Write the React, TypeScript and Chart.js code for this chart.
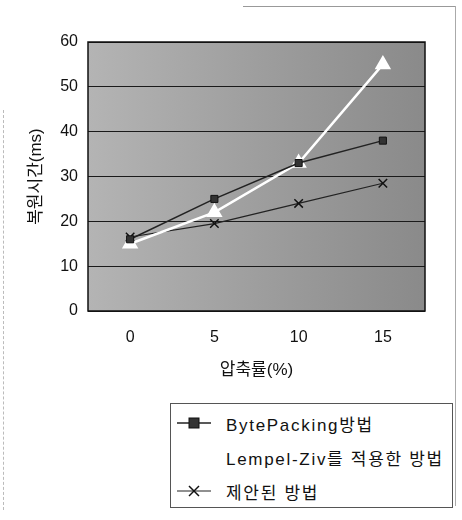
import React, { useEffect, useRef } from "react";
import { Chart, registerables } from "chart.js";

Chart.register(...registerables);

const categories = ["0", "5", "10", "15"];
const bytePacking = [16, 25, 33, 38];
const lempelZiv = [15, 22, 33, 55];
const proposed = [16.5, 19.5, 24, 28.5];
const seriesNames = ["BytePacking방법", "Lempel-Ziv를 적용한 방법", "제안된 방법"];
const yTitle = "복원시간(ms)";
const xTitle = "압축률(%)";

const FONT = "'Liberation Sans', 'Noto Sans CJK KR', sans-serif";

const bgPlugin = {
  id: "plotBg",
  beforeDraw(chart: any) {
    const { ctx, chartArea: a } = chart;
    ctx.save();
    const g = ctx.createLinearGradient(a.left, 0, a.right, 0);
    g.addColorStop(0, "#b4b4b4");
    g.addColorStop(0.5, "#9e9e9e");
    g.addColorStop(1, "#8a8a8a");
    ctx.fillStyle = g;
    ctx.fillRect(a.left, a.top, a.right - a.left, a.bottom - a.top);
    ctx.restore();
  },
  afterDraw(chart: any) {
    const { ctx, chartArea: a } = chart;
    ctx.save();
    ctx.strokeStyle = "#111";
    ctx.lineWidth = 1.5;
    ctx.strokeRect(a.left, a.top, a.right - a.left, a.bottom - a.top);
    ctx.restore();
  },
};

export default function App() {
  const ref = useRef<HTMLCanvasElement>(null);
  useEffect(() => {
    if (!ref.current) return;
    const chart = new Chart(ref.current, {
      type: "line",
      data: {
        labels: categories,
        datasets: [
          {
            label: seriesNames[0],
            data: bytePacking,
            borderColor: "#222",
            borderWidth: 1.5,
            pointStyle: "rect",
            pointRadius: 5,
            pointBackgroundColor: "#333",
            pointBorderColor: "#111",
            pointBorderWidth: 1,
          },
          {
            label: seriesNames[1],
            data: lempelZiv,
            borderColor: "#ffffff",
            borderWidth: 2.5,
            pointStyle: "triangle",
            pointRadius: 7,
            pointBackgroundColor: "#ffffff",
            pointBorderColor: "#ffffff",
          },
          {
            label: seriesNames[2],
            data: proposed,
            borderColor: "#222",
            borderWidth: 1.2,
            pointStyle: "crossRot",
            pointRadius: 6,
            pointBorderColor: "#111",
            pointBorderWidth: 1.5,
          },
        ],
      },
      options: {
        animation: false,
        responsive: false,
        maintainAspectRatio: false,
        layout: { padding: { left: 22, right: 37, top: 42, bottom: 135 } },
        plugins: { legend: { display: false }, tooltip: { enabled: false } },
        scales: {
          x: {
            offset: true,
            grid: { display: false, drawTicks: false },
            border: { display: false },
            ticks: { color: "#111", font: { family: FONT, size: 16 }, padding: 17 },
            title: {
              display: true,
              text: xTitle,
              color: "#111",
              font: { family: FONT, size: 17 },
              padding: { top: 4, bottom: 4 },
            },
            afterFit: (s: any) => {
              s.height = 74;
            },
          },
          y: {
            min: 0,
            max: 60,
            grid: { color: "#1a1a1a", lineWidth: 1, drawTicks: false },
            border: { display: false },
            ticks: { stepSize: 10, color: "#111", font: { family: FONT, size: 16 }, padding: 10 },
            title: {
              display: true,
              text: yTitle,
              color: "#111",
              font: { family: FONT, size: 17 },
              padding: { top: 4, bottom: 4 },
            },
            afterFit: (s: any) => {
              s.width = 66;
            },
          },
        },
      },
      plugins: [bgPlugin],
    });
    return () => chart.destroy();
  }, []);

  const rowStyle: React.CSSProperties = {
    position: "absolute",
    left: 0,
    height: 24,
    display: "flex",
    alignItems: "center",
    fontFamily: FONT,
    fontSize: 17,
    letterSpacing: 1.7,
    color: "#111",
    whiteSpace: "nowrap",
  };

  return (
    <div style={{ position: "fixed", left: 0, top: 0, width: 462, height: 520, background: "#fff" }}>
      <canvas ref={ref} width={462} height={520} style={{ display: "block" }} />
      <div style={{ position: "absolute", left: 243, top: 6, width: 212, height: 0, borderTop: "1px solid #999" }} />
      <div style={{ position: "absolute", left: 455, top: 6, width: 0, height: 500, borderLeft: "1px solid #aaa" }} />
      <div style={{ position: "absolute", left: 3, top: 110, width: 0, height: 400, borderLeft: "1px dashed #bbb" }} />
      <div
        style={{
          position: "absolute",
          left: 170,
          top: 403,
          width: 281,
          height: 103,
          border: "1px solid #555",
          background: "#fff",
        }}
      >
        <div style={{ ...rowStyle, top: 7 }}>
          <svg width={51} height={24} style={{ marginLeft: 4, flexShrink: 0 }}>
            <line x1={2} y1={12} x2={36} y2={12} stroke="#222" strokeWidth={1.5} />
            <rect x={14} y={7} width={10} height={10} fill="#333" stroke="#111" />
          </svg>
          <span>{seriesNames[0]}</span>
        </div>
        <div style={{ ...rowStyle, top: 41 }}>
          <svg width={51} height={24} style={{ marginLeft: 4, flexShrink: 0 }}>
            <line x1={2} y1={12} x2={36} y2={12} stroke="#fff" strokeWidth={2} />
          </svg>
          <span>{seriesNames[1]}</span>
        </div>
        <div style={{ ...rowStyle, top: 75 }}>
          <svg width={51} height={24} style={{ marginLeft: 4, flexShrink: 0 }}>
            <line x1={2} y1={12} x2={36} y2={12} stroke="#222" strokeWidth={1.2} />
            <line x1={14} y1={7} x2={24} y2={17} stroke="#111" strokeWidth={1.5} />
            <line x1={14} y1={17} x2={24} y2={7} stroke="#111" strokeWidth={1.5} />
          </svg>
          <span>{seriesNames[2]}</span>
        </div>
      </div>
    </div>
  );
}
